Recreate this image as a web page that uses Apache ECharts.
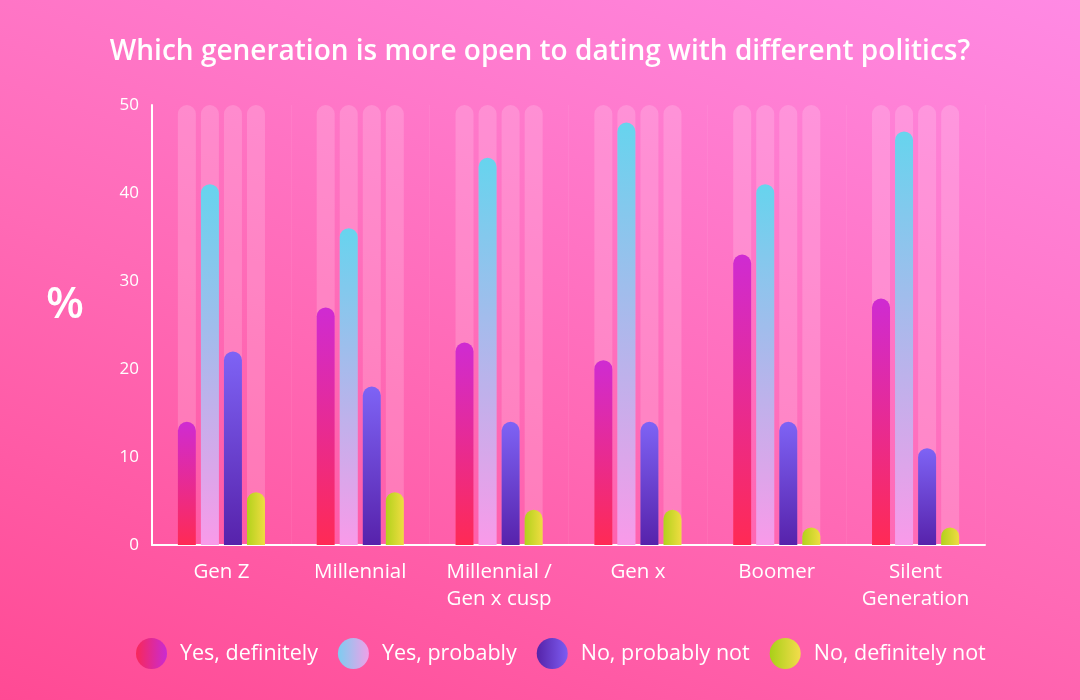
<!DOCTYPE html>
<html>
<head>
<meta charset="utf-8">
<script src="https://cdn.jsdelivr.net/npm/echarts@6/dist/echarts.min.js"></script>
<style>
html,body{margin:0;padding:0;width:1080px;height:700px;overflow:hidden;}
#bg{width:1080px;height:700px;background:linear-gradient(20deg,#ff4a94 0%,#ff6ab6 45%,#ff8ae4 100%);}
#chart{width:1080px;height:700px;}
</style>
</head>
<body>
<div id="bg"><div id="chart"></div></div>
<script>
const categories = ['Gen Z', 'Millennial', 'Millennial /\nGen x cusp', 'Gen x', 'Boomer', 'Silent\nGeneration'];
const seriesNames = ['Yes, definitely', 'Yes, probably', 'No, probably not', 'No, definitely not'];
const yesDefinitely = [14, 27, 23, 21, 33, 28];
const yesProbably = [41, 36, 44, 48, 41, 47];
const noProbablyNot = [22, 18, 14, 14, 14, 11];
const noDefinitelyNot = [6, 6, 4, 4, 2, 2];
const yTicks = [0, 10, 20, 30, 40, 50];

const FONT = '"Open Sans"';
function vgrad(top, bottom) {
  return new echarts.graphic.LinearGradient(0, 0, 0, 1, [{offset: 0, color: top}, {offset: 1, color: bottom}]);
}
function hgrad(left, right) {
  return new echarts.graphic.LinearGradient(0, 0, 1, 0, [{offset: 0, color: left}, {offset: 1, color: right}]);
}
const barColors = [
  vgrad('#cf2bd2', '#ff2a55'),
  vgrad('#66d4ee', '#f99ae9'),
  vgrad('#7e63f5', '#5722ab'),
  hgrad('#b2d21c', '#f0dc42')
];
const legendColors = [
  hgrad('#f8285a', '#c92bd2'),
  hgrad('#7ccdf0', '#f0a0e8'),
  hgrad('#5523a8', '#7d5cf2'),
  hgrad('#a8d018', '#f4dc4c')
];
const dataSets = [yesDefinitely, yesProbably, noProbablyNot, noDefinitelyNot];

const chart = echarts.init(document.getElementById('chart'), null, {renderer: 'canvas'});
chart.setOption({
  backgroundColor: 'transparent',
  animation: false,
  title: {
    text: 'Which generation is more open to dating with different politics?',
    left: 'center', top: 33,
    textStyle: {color: '#fff', fontFamily: FONT, fontWeight: 600, fontSize: 28}
  },
  graphic: [{
    type: 'text', left: 46, top: 283,
    style: {text: '%', fill: '#fff', font: '600 44px ' + FONT}
  }],
  legend: {
    bottom: 26, left: 131,
    itemWidth: 31, itemHeight: 31, itemGap: 20,
    icon: 'circle',
    textStyle: {color: '#fff', fontFamily: FONT, fontSize: 21.5, padding: [0, 0, 0, 8]},
    data: seriesNames.map((n, i) => ({name: n, itemStyle: {color: legendColors[i]}}))
  },
  grid: {left: 152, right: 95, top: 105, bottom: 155},
  xAxis: {
    type: 'category',
    data: categories,
    axisLine: {lineStyle: {color: '#fff', width: 2}},
    axisTick: {show: false},
    splitLine: {show: true, interval: 0, lineStyle: {color: 'rgba(255,255,255,0.06)'}},
    axisLabel: {interval: 0, color: '#fff', fontFamily: FONT, fontSize: 20.5, lineHeight: 27, margin: 14}
  },
  yAxis: {
    type: 'value', min: 0, max: 50, interval: 10,
    axisLine: {show: true, lineStyle: {color: '#fff', width: 2}},
    axisTick: {show: false},
    splitLine: {show: false},
    axisLabel: {color: '#fff', fontFamily: FONT, fontSize: 17, margin: 13,
      formatter: v => yTicks.includes(v) ? String(v) : ''}
  },
  series: dataSets.map((d, i) => ({
    name: seriesNames[i],
    type: 'bar',
    data: d,
    barWidth: 18,
    barGap: '28%',
    itemStyle: {color: barColors[i], borderRadius: [9, 9, 0, 0]},
    showBackground: true,
    backgroundStyle: {color: 'rgba(255,255,255,0.17)', borderRadius: [9, 9, 0, 0]}
  }))
});
</script>
</body>
</html>
